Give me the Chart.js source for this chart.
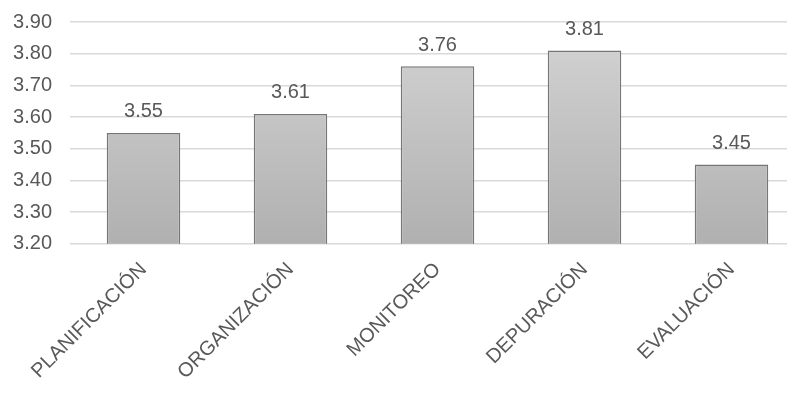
<!DOCTYPE html>
<html>
<head>
<meta charset="utf-8">
<script src="https://cdn.jsdelivr.net/npm/chart.js@4.4.0/dist/chart.umd.min.js"></script>
<style>
  html, body { margin: 0; padding: 0; background: #fff; overflow: hidden; }
  #wrap { width: 806px; height: 398px; }
</style>
</head>
<body>
<div id="wrap"><canvas id="chart" width="806" height="398"></canvas></div>
<script>
// chart data
const categories = ['PLANIFICACIÓN', 'ORGANIZACIÓN', 'MONITOREO', 'DEPURACIÓN', 'EVALUACIÓN'];
const values = [3.55, 3.61, 3.76, 3.81, 3.45];
const yTicks = [3.20, 3.30, 3.40, 3.50, 3.60, 3.70, 3.80, 3.90];

const textColor = '#595959';
const fontFamily = '"Liberation Sans", Arial, sans-serif';

// value labels above the bars (no datalabels plugin available)
const valueLabels = {
  id: 'valueLabels',
  afterDatasetsDraw(chart) {
    const ctx = chart.ctx;
    const meta = chart.getDatasetMeta(0);
    ctx.save();
    ctx.font = '20px ' + fontFamily;
    ctx.fillStyle = textColor;
    ctx.textAlign = 'center';
    ctx.textBaseline = 'bottom';
    meta.data.forEach((bar, i) => {
      ctx.fillText(values[i].toFixed(2), bar.x, bar.y - 11);
    });
    ctx.restore();
  }
};

const ctx = document.getElementById('chart').getContext('2d');

new Chart(ctx, {
  type: 'bar',
  data: {
    labels: categories,
    datasets: [{
      data: values,
      backgroundColor: (c) => {
        const area = c.chart.chartArea;
        if (!area) return '#c4c4c4';
        const g = c.chart.ctx.createLinearGradient(0, area.top, 0, area.bottom);
        g.addColorStop(0, '#d4d4d4');
        g.addColorStop(1, '#b0b0b0');
        return g;
      },
      borderColor: '#767676',
      borderWidth: 1.5,
      barPercentage: 0.5,
      categoryPercentage: 1.0
    }]
  },
  options: {
    responsive: false,
    animation: false,
    layout: { padding: { left: 12, right: 1, top: 22, bottom: 0 } },
    plugins: {
      legend: { display: false },
      tooltip: { enabled: false }
    },
    scales: {
      y: {
        min: yTicks[0],
        max: yTicks[yTicks.length - 1],
        afterBuildTicks: (axis) => { axis.ticks = yTicks.map(v => ({ value: v })); },
        afterFit: (axis) => {
          axis.width = 58;
          axis.paddingTop = 0;
          axis.paddingBottom = 0;
        },
        border: { display: false },
        grid: { color: '#d9d9d9', lineWidth: 1.5, drawTicks: false },
        ticks: {
          padding: 18,
          color: textColor,
          font: { family: fontFamily, size: 20 },
          callback: (v) => Number(v).toFixed(2)
        }
      },
      x: {
        border: { display: false },
        grid: { display: false, drawTicks: false },
        ticks: {
          padding: 14,
          maxRotation: 45,
          minRotation: 45,
          color: textColor,
          font: { family: fontFamily, size: 20 }
        }
      }
    }
  },
  plugins: [valueLabels]
});
</script>
</body>
</html>
